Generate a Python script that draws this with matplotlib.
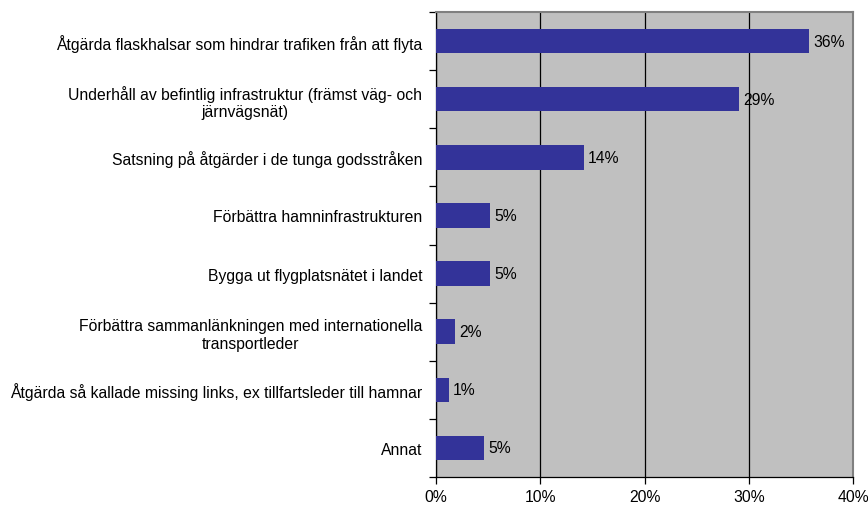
import matplotlib
matplotlib.use("Agg")
import matplotlib.pyplot as plt
from matplotlib.ticker import FuncFormatter

plt.rcParams['font.family'] = ['Liberation Sans', 'DejaVu Sans']

# categories, top to bottom
categories = [
    "Åtgärda flaskhalsar som hindrar trafiken från att flyta",
    "Underhåll av befintlig infrastruktur (främst väg- och\njärnvägsnät)",
    "Satsning på åtgärder i de tunga godsstråken",
    "Förbättra hamninfrastrukturen",
    "Bygga ut flygplatsnätet i landet",
    "Förbättra sammanlänkningen med internationella\ntransportleder",
    "Åtgärda så kallade missing links, ex tillfartsleder till hamnar",
    "Annat",
]
values = [35.8, 29.1, 14.2, 5.2, 5.2, 1.8, 1.2, 4.6]
value_labels = ["36%", "29%", "14%", "5%", "5%", "2%", "1%", "5%"]
xticks = [0, 10, 20, 30, 40]

fs = 11.3

fig = plt.figure(figsize=(8.68, 5.06), dpi=100)
ax = fig.add_axes([436 / 868, 1 - 478 / 506, (853 - 436) / 868, (478 - 13) / 506])
ax.set_facecolor('#c0c0c0')

ypos = list(range(len(categories)))
ax.barh(ypos, values, height=0.42, color='#333399', zorder=3)

for y, v, lab in zip(ypos, values, value_labels):
    ax.annotate(lab, (v, y), xytext=(3, 0), textcoords='offset points',
                va='center', ha='left', fontsize=fs, zorder=4)

ax.set_xlim(0, 40)
ax.set_ylim(len(categories) - 0.5, -0.5)
ax.set_xticks(xticks)
ax.xaxis.set_major_formatter(FuncFormatter(lambda x, p: f"{x:.0f}%"))
ax.grid(axis='x', color='black', linewidth=0.9, zorder=1)

ax.set_yticks(ypos)
ax.set_yticklabels(categories, fontsize=fs, multialignment='center')
ax.tick_params(axis='y', length=0, pad=10)
ax.set_yticks([i - 0.5 for i in range(len(categories) + 1)], minor=True)
ax.tick_params(axis='y', which='minor', length=5, direction='out', width=0.9)
ax.tick_params(axis='x', length=5, direction='out', width=0.9, labelsize=fs, pad=4)

for side in ['top', 'right']:
    ax.spines[side].set_color('#808080')
    ax.spines[side].set_linewidth(1.5)
for side in ['left', 'bottom']:
    ax.spines[side].set_color('black')
    ax.spines[side].set_linewidth(0.9)

fig.savefig('out.png', dpi=100)
